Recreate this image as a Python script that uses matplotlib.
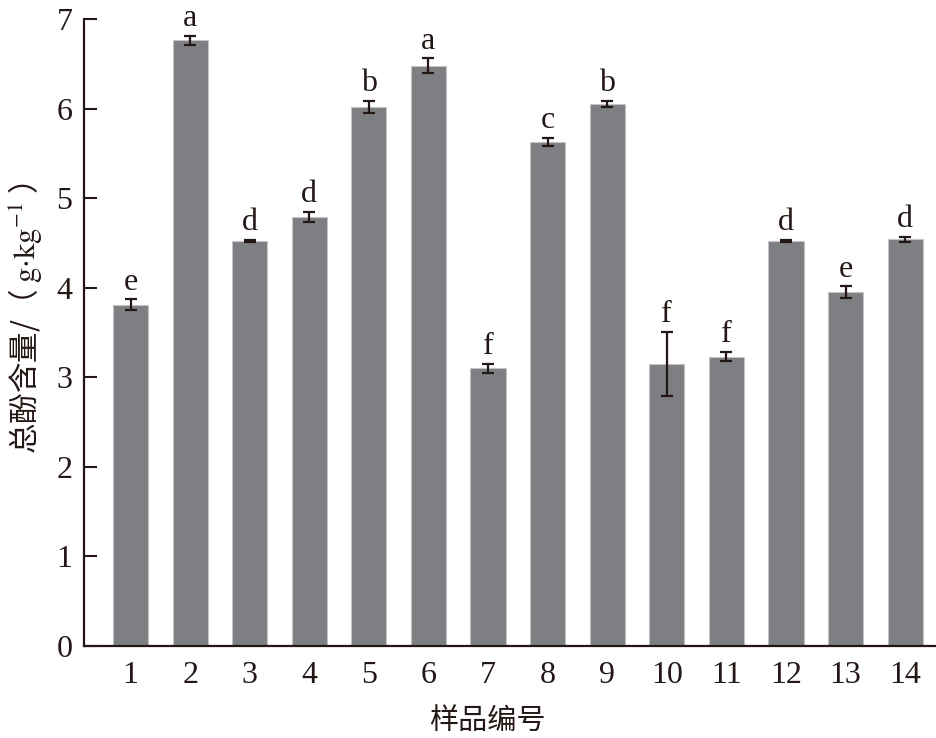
import matplotlib
matplotlib.use("Agg")
import matplotlib.pyplot as plt

samples = ["1", "2", "3", "4", "5", "6", "7", "8", "9", "10", "11", "12", "13", "14"]
values = [3.81, 6.76, 4.52, 4.79, 6.02, 6.48, 3.10, 5.63, 6.05, 3.15, 3.23, 4.52, 3.95, 4.54]
errors = [0.06, 0.05, 0.01, 0.055, 0.07, 0.08, 0.05, 0.045, 0.035, 0.36, 0.05, 0.01, 0.065, 0.03]
letters = ["e", "a", "d", "d", "b", "a", "f", "c", "b", "f", "f", "d", "e", "d"]
yticks = [0, 1, 2, 3, 4, 5, 6, 7]

plt.rcParams['mathtext.fontset'] = 'stix'
serif = ['Liberation Serif', 'DejaVu Serif']
cjk = ['Noto Sans CJK SC', 'DejaVu Sans']
ink = '#231815'

fig = plt.figure(figsize=(9.36, 7.38), dpi=100)
ax = fig.add_axes([83.5 / 936, 92 / 738, 852 / 936, 627 / 738])

x = list(range(1, len(samples) + 1))
ax.bar(x, values, width=0.59, color='#7e7f83', edgecolor='#c4c4c4', linewidth=0.8, zorder=2)
ax.errorbar(x, values, yerr=errors, fmt='none', ecolor=ink, elinewidth=1.6,
            capsize=4.5, capthick=1.6, zorder=3)

for xi, v, e, lab in zip(x, values, errors, letters):
    ax.annotate(lab, (xi, v + e), xytext=(0, 2), textcoords='offset points',
                ha='center', va='bottom', fontsize=23, family=serif, color=ink)

ax.set_xlim(0.21, 14.51)
ax.set_ylim(0, 7)
ax.set_xticks(x)
ax.set_xticklabels(samples)
ax.set_yticks(yticks)
ax.set_yticklabels([str(t) for t in yticks])

for lab in ax.get_xticklabels() + ax.get_yticklabels():
    lab.set_family(serif)
    lab.set_fontsize(23)
    lab.set_color(ink)

ax.tick_params(axis='y', direction='in', length=9.5, width=1.5, color=ink, pad=8)
ax.tick_params(axis='x', length=0, pad=11)

for s in ['top', 'right']:
    ax.spines[s].set_visible(False)
for s in ['left', 'bottom']:
    ax.spines[s].set_linewidth(1.6)
    ax.spines[s].set_color(ink)

ax.set_xlabel('样品编号', family=cjk, fontsize=21, color=ink)
ax.xaxis.set_label_coords(0.474, -0.095)
ax.set_ylabel(r'总酚含量/（ $\mathrm{g{\cdot}kg^{-1}}$ ）', family=cjk, fontsize=22, color=ink)
ax.yaxis.set_label_coords(-0.046, 0.523)

fig.savefig('out.png', dpi=100)
